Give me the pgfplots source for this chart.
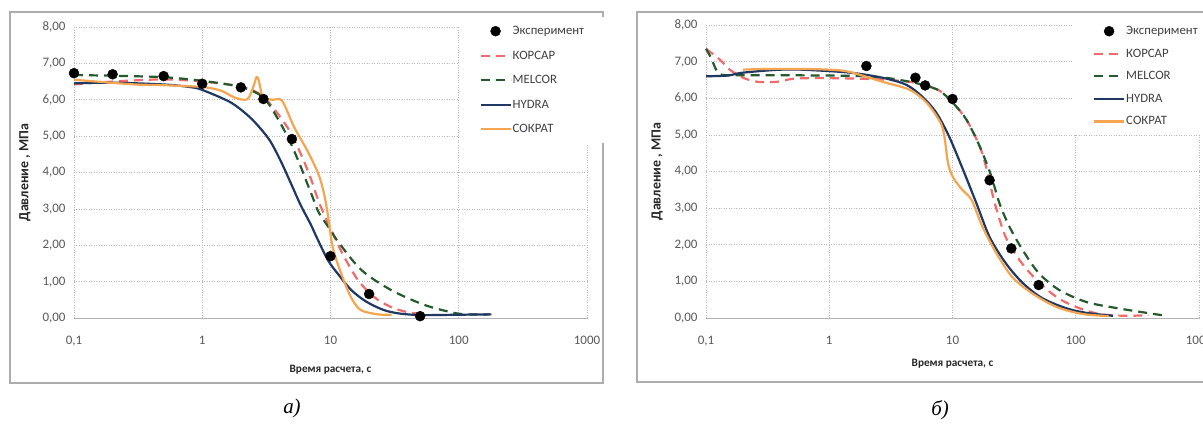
\documentclass[border=0pt]{standalone}
\usepackage{fontspec}
\setmainfont{Carlito}
\newfontfamily\capfont{Liberation Serif}
\usepackage{pgfplots}
\pgfplotsset{compat=1.18}
\definecolor{korsar}{HTML}{F26B6B}
\definecolor{melcor}{HTML}{255A2E}
\definecolor{hydra}{HTML}{1F3864}
\definecolor{sokrat}{HTML}{F5A550}
\definecolor{tickgray}{HTML}{595959}
\begin{document}
\begin{tikzpicture}[x=1bp,y=1bp]
\useasboundingbox (0,0) rectangle (1203,428);
\fill[white] (0,0) rectangle (1203,428);
\draw[gray!65, line width=1.2bp] (10,45) rectangle (603,416);
\draw[gray!65, line width=1.2bp] (637,46) rectangle (1215,416);

% ---------------- chart a ----------------
\begin{axis}[
  scale only axis, xmode=log, xmin=0.1, xmax=1000, ymin=0, ymax=8,
  at={(74bp,110bp)}, anchor=south west, width=513bp, height=291bp,
  xtick={0.1,1,10,100,1000}, xticklabels={{0,1},1,10,100,1000},
  xminorticks=false,
  ytick={0,1,2,3,4,5,6,7,8},
  major tick length=0pt,
  grid=major,
  major grid style={gray!55, line width=0.6bp, dash pattern=on 1bp off 1.5bp},
  axis x line*=bottom, axis y line*=left,
  x axis line style={-, gray!60, line width=1bp},
  y axis line style={draw=none},
  tick label style={font=\fontsize{13}{15}\selectfont, text=tickgray},
  /pgf/number format/assume math mode=true,
  yticklabel style={/pgf/number format/fixed, /pgf/number format/fixed zerofill, /pgf/number format/precision=2, /pgf/number format/use comma, xshift=-5bp},
  xticklabel style={yshift=-15bp},
  clip=false,
  xlabel={Время расчета, с}, ylabel={Давление , МПа},
  xlabel style={font=\bfseries\fontsize{11.3}{13}\selectfont, text=black!85, at={(axis description cs:0.5,-0.179)}, anchor=center},
  ylabel style={font=\bfseries\fontsize{14}{16}\selectfont, text=black!85, at={(axis description cs:-0.0955,0.5)}, anchor=center},
  legend cell align=left,
  legend image code/.code={\draw[mark repeat=2, mark phase=2, #1] plot coordinates {(0bp,0bp) (15bp,0bp) (30bp,0bp)};},
  legend style={at={(0.751,1.034)}, anchor=north west, draw=none, fill=white,
    font=\fontsize{12.8}{15}\selectfont, text=black!75, row sep=12.8bp, inner xsep=20bp, inner ysep=8bp,
    nodes={inner sep=1bp}},
]
\addplot[only marks, mark=*, mark size=5bp, black] coordinates {(0.1,6.73) (0.2,6.70) (0.5,6.65) (1,6.44) (2,6.34) (3,6.02) (5,4.92) (10,1.70) (20,0.66) (50,0.05)};
\addlegendentry{Эксперимент}
\addplot[korsar, no marks, line width=2.2bp, dash pattern=on 9bp off 6bp, smooth, tension=0.5] coordinates {(0.1,6.42) (0.2,6.5) (0.5,6.56) (1,6.5) (2,6.36) (3,6.08) (4.6,5.25) (5.8,4.55) (7,3.85) (8.2,3.15) (10.4,2.33) (12.8,1.68) (16.4,1.04) (21.8,0.58) (29.7,0.3) (40,0.16) (55,0.1)};
\addlegendentry{КОРСАР}
\addplot[melcor, no marks, line width=2.2bp, dash pattern=on 9bp off 6bp, smooth, tension=0.5] coordinates {(0.1,6.68) (0.2,6.66) (0.5,6.62) (1,6.52) (2,6.35) (3,6.06) (4,5.4) (4.9,4.8) (5.8,4.2) (6.5,3.75) (7.3,3.3) (8.1,2.9) (10,2.42) (11.5,2.09) (17.4,1.32) (29.6,0.77) (54,0.36) (92,0.14) (120,0.1) (175,0.1)};
\addlegendentry{MELCOR}
\addplot[hydra, no marks, line width=2.2bp, smooth, tension=0.5] coordinates {(0.1,6.45) (0.2,6.47) (0.5,6.42) (0.8,6.35) (1,6.27) (1.66,5.93) (2.3,5.55) (2.86,5.2) (3.42,4.84) (4.1,4.31) (4.9,3.71) (5.86,3.1) (7.0,2.58) (7.8,2.22) (9.55,1.59) (11.5,1.2) (14.5,0.77) (19,0.45) (26,0.22) (35,0.12) (52,0.08) (100,0.09) (180,0.1)};
\addlegendentry{HYDRA}
\addplot[sokrat, no marks, line width=2.2bp, smooth, tension=0.5] coordinates {(0.1,6.55) (0.15,6.5) (0.3,6.42) (0.5,6.4) (1,6.35) (1.4,6.25) (1.76,6.07) (2.1,6.0) (2.3,6.05) (2.5,6.35) (2.65,6.62) (2.75,6.55) (2.85,6.3) (3.0,6.04) (3.6,6.0) (4.2,5.97) (5.2,5.25) (6.6,4.6) (8.0,3.98) (8.8,3.5) (9.5,2.88) (10.4,1.95) (12.1,1.23) (14.4,0.58) (17.2,0.22) (23.5,0.1) (30,0.09)};
\addlegendentry{СОКРАТ}
\end{axis}

% ---------------- chart b ----------------
\begin{axis}[
  scale only axis, xmode=log, xmin=0.1, xmax=1000, ymin=0, ymax=8,
  at={(706bp,110bp)}, anchor=south west, width=493bp, height=293bp,
  xtick={0.1,1,10,100,1000}, xticklabels={{0,1},1,10,100,1000},
  xminorticks=false,
  ytick={0,1,2,3,4,5,6,7,8},
  major tick length=0pt,
  grid=major,
  major grid style={gray!55, line width=0.6bp, dash pattern=on 1bp off 1.5bp},
  axis x line*=bottom, axis y line*=left,
  x axis line style={-, gray!60, line width=1bp},
  y axis line style={draw=none},
  tick label style={font=\fontsize{13}{15}\selectfont, text=tickgray},
  /pgf/number format/assume math mode=true,
  yticklabel style={/pgf/number format/fixed, /pgf/number format/fixed zerofill, /pgf/number format/precision=2, /pgf/number format/use comma, xshift=-5bp},
  xticklabel style={yshift=-15bp},
  clip=false,
  xlabel={Время расчета, с}, ylabel={Давление , МПа},
  xlabel style={font=\bfseries\fontsize{11.3}{13}\selectfont, text=black!85, at={(axis description cs:0.5,-0.155)}, anchor=center},
  ylabel style={font=\bfseries\fontsize{14}{16}\selectfont, text=black!85, at={(axis description cs:-0.099,0.5)}, anchor=center},
  legend cell align=left,
  legend image code/.code={\draw[mark repeat=2, mark phase=2, #1] plot coordinates {(0bp,0bp) (15bp,0bp) (30bp,0bp)};},
  legend style={at={(0.744,1.02)}, anchor=north west, draw=none, fill=white,
    font=\fontsize{12.8}{15}\selectfont, text=black!75, row sep=10.8bp, inner xsep=20bp, inner ysep=6bp,
    nodes={inner sep=1bp}},
]
\addplot[only marks, mark=*, mark size=5bp, black] coordinates {(2,6.88) (5,6.56) (6,6.35) (10,5.98) (20,3.76) (30,1.9) (50,0.9)};
\addlegendentry{Эксперимент}
\addplot[korsar, no marks, line width=2.2bp, dash pattern=on 9bp off 6bp, smooth, tension=0.5] coordinates {(0.1,7.35) (0.13,7.05) (0.156,6.78) (0.2,6.56) (0.26,6.45) (0.38,6.45) (0.5,6.53) (0.7,6.55) (1,6.55) (2,6.53) (3,6.5) (4.5,6.45) (6,6.35) (7.9,6.2) (10.1,5.87) (13,5.41) (16.7,4.67) (19,4.04) (22,3.14) (27,2.21) (35,1.58) (48,1.04) (70,0.57) (101,0.3) (155,0.11) (255,0.06) (390,0.08)};
\addlegendentry{КОРСАР}
\addplot[melcor, no marks, line width=2.2bp, dash pattern=on 9bp off 6bp, smooth, tension=0.5] coordinates {(0.1,7.35) (0.11,7.1) (0.12,6.8) (0.13,6.66) (0.15,6.63) (0.3,6.63) (1,6.62) (2,6.6) (3,6.55) (4.5,6.45) (6,6.35) (7.9,6.2) (10.1,5.87) (13,5.41) (16.7,4.67) (20.5,3.9) (24,3.14) (29,2.49) (37,1.86) (50,1.23) (73,0.77) (121,0.44) (215,0.27) (450,0.1) (500,0.08)};
\addlegendentry{MELCOR}
\addplot[hydra, no marks, line width=2.2bp, smooth, tension=0.5] coordinates {(0.1,6.6) (0.15,6.62) (0.19,6.69) (0.27,6.74) (0.4,6.78) (0.6,6.78) (1.46,6.7) (2.7,6.56) (4.2,6.37) (5.7,6.04) (7.4,5.6) (9.4,4.95) (12,4.1) (15.6,3.14) (20,2.21) (27,1.5) (37,0.96) (53,0.55) (83,0.27) (122,0.14) (200,0.06)};
\addlegendentry{HYDRA}
\addplot[sokrat, no marks, line width=2.2bp, smooth, tension=0.5] coordinates {(0.2,6.78) (0.3,6.8) (0.6,6.8) (1,6.78) (1.46,6.72) (2.7,6.45) (4.5,6.23) (6.2,5.87) (8,5.33) (8.6,4.95) (9.1,4.32) (9.6,4.0) (10.5,3.75) (12,3.5) (14.3,3.22) (17.5,2.49) (22.6,1.78) (30.5,1.12) (44,0.68) (70,0.3) (113,0.11) (185,0.05)};
\addlegendentry{СОКРАТ}
\end{axis}

\node[font=\capfont\itshape\fontsize{21}{24}\selectfont] at (292,20) {а)};
\node[font=\capfont\itshape\fontsize{21}{24}\selectfont] at (940,18) {б)};
\end{tikzpicture}
\end{document}
